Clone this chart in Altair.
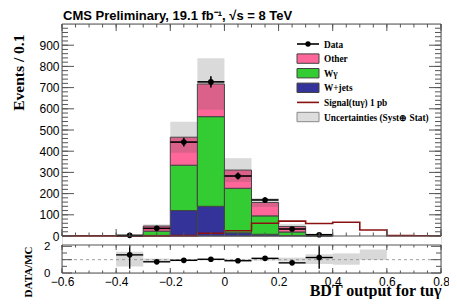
import altair as alt
import pandas as pd
import numpy as np

# ---------------- data ----------------
bin_lo = [-0.6, -0.5, -0.4, -0.3, -0.2, -0.1, 0.0, 0.1, 0.2, 0.3, 0.4, 0.5, 0.6, 0.7]
bin_hi = [-0.5, -0.4, -0.3, -0.2, -0.1, 0.0, 0.1, 0.2, 0.3, 0.4, 0.5, 0.6, 0.7, 0.8]

wjets  = [0, 0, 0.5, 3, 120, 140, 15, 8, 2, 0.5, 0, 0, 0, 0]
wgamma = [0, 0, 1.0, 20, 214, 423, 210, 87, 17, 2.5, 0, 0, 0, 0]
other  = [0, 0, 0.7, 24, 132, 154, 86, 63, 26, 2.2, 0, 0, 0, 0]
mc_unc = [0, 0, 1.2, 8, 73, 121, 56, 21, 11, 2.2, 0, 0, 0, 0]

data_val = [0, 0, 3, 36, 443, 727, 283, 170, 33, 6, 0, 0, 0, 0]
data_err = [0, 0, 1.7, 6, 21, 27, 17, 13, 6, 2.5, 0, 0, 0, 0]

signal = [0.5, 0.5, 0.5, 0.8, 2, 13, 25, 60, 70, 59, 65, 28, 2, 1]

ratio_val = [None, None, 1.36, 0.84, 0.95, 1.03, 0.92, 1.10, 0.76, 1.16, None, None, None, None]
ratio_err = [None, None, 1.04, 0.10, 0.05, 0.04, 0.06, 0.08, 0.15, 0.84, None, None, None, None]
band_lo = [None, None, 0.48, 0.88, 0.95, 0.95, 0.94, 0.93, 0.85, 0.68, 0.62, 0.98, None, None]
band_hi = [None, None, 1.59, 1.08, 1.05, 1.05, 1.06, 1.07, 1.15, 1.40, 1.47, 1.76, None, None]

x_labels = [-0.6, -0.4, -0.2, 0.0, 0.2, 0.4, 0.6, 0.8]
y_labels = [0, 100, 200, 300, 400, 500, 600, 700, 800, 900]
r_labels = [0, 1, 2]

legend_labels = ["Data", "Other", "W\u03b3", "W+jets", "Signal(tu\u03b3) 1 pb", "Uncertainties (Syst\u2295 Stat)"]

# ---------------- colours / geometry ----------------
C_OTHER = "#ff6699"
C_WG = "#33cc33"
C_WJ = "#333399"
C_SIG = "#8b1010"
FRAME = "#555555"
W, H = 379, 249
MAIN_BOTTOM = 212
R_TOP, R_BOTTOM = 221, 249
PAD_L, PAD_T = 54, 16

SANS = "Liberation Sans"
SERIF = "Liberation Serif"

xscale = alt.Scale(domain=[-0.6, 0.8], nice=False, zero=False)
xaxis = alt.Axis(values=x_labels, labelExpr="datum.value == 0 ? '0' : format(datum.value, '.1f')",
                 ticks=False, domain=False, grid=False, labelFont=SANS, labelFontSize=12,
                 labelColor="black", labelPadding=3, labelFlush=False,
                 title="BDT output for tu\u03b3", titleFont=SERIF, titleFontWeight="bold",
                 titleFontSize=16, titleColor="black", titleAnchor="end", titleAlign="right",
                 titleBaseline="alphabetic", titleX=W, titleY=22.5)

yscale = alt.Scale(domain=[0, 1000], range=[MAIN_BOTTOM, 0], nice=False, zero=False)
yaxis = alt.Axis(values=y_labels, ticks=False, domain=False, grid=False, labelFont=SANS,
                 labelFontSize=12, labelColor="black", labelPadding=3,
                 title="Events / 0.1", titleFont=SERIF, titleFontWeight="bold", titleFontSize=15.5,
                 titleColor="black", titleAngle=270, titleAlign="right", titleBaseline="alphabetic",
                 titleX=-39, titleY=10)

rscale = alt.Scale(domain=[0, 2.1], range=[R_BOTTOM, R_TOP], nice=False, zero=False, clamp=True)
raxis = alt.Axis(values=r_labels, format="d", ticks=False, domain=False, grid=False, labelFont=SANS,
                 labelFontSize=11.5, labelColor="black", labelPadding=12, orient="left",
                 title="DATA/MC", titleFont=SERIF, titleFontWeight="bold", titleFontSize=11,
                 titleColor="black", titleAngle=270, titleAlign="right", titleBaseline="alphabetic",
                 titleX=-31, titleY=R_TOP + 1)


def X(f):
    return alt.X(f"{f}:Q", scale=xscale, axis=xaxis)


def Y(f):
    return alt.Y(f"{f}:Q", scale=yscale, axis=yaxis)


def R(f):
    return alt.Y(f"{f}:Q", scale=rscale, axis=raxis)


# ---------------- tables ----------------
wj = np.array(wjets, float)
wg = np.array(wgamma, float)
ot = np.array(other, float)
tot = wj + wg + ot

stack = pd.DataFrame({
    "lo": bin_lo * 3, "hi": bin_hi * 3,
    "y0": list(np.zeros(14)) + list(wj) + list(wj + wg),
    "y1": list(wj) + list(wj + wg) + list(tot),
    "comp": ["W+jets"] * 14 + ["Wg"] * 14 + ["Other"] * 14,
})
stack = stack[stack.y1 > stack.y0]

unc = pd.DataFrame({"lo": bin_lo, "hi": bin_hi, "u0": tot - np.array(mc_unc), "u1": tot + np.array(mc_unc)})
unc = unc[unc.u1 > unc.u0]

dat = pd.DataFrame({"lo": bin_lo, "hi": bin_hi, "v": data_val, "e": data_err})
dat["c"] = (dat.lo + dat.hi) / 2
dat["v0"] = dat.v - dat.e
dat["v1"] = dat.v + dat.e
dat = dat[dat.v > 0]

sig = pd.DataFrame({"x": bin_lo + [bin_hi[-1]], "s": signal + [signal[-1]]})

rat = pd.DataFrame({"lo": bin_lo, "hi": bin_hi, "r": ratio_val, "re": ratio_err})
rat = rat.dropna()
rat["c"] = (rat.lo + rat.hi) / 2
rat["r0"] = rat.r - rat.re
rat["r1"] = rat.r + rat.re

band = pd.DataFrame({"lo": bin_lo, "hi": bin_hi, "b0": band_lo, "b1": band_hi}).dropna()

one = pd.DataFrame({"k": [0]})

# tick positions
xt_minor = pd.DataFrame({"t": [round(-0.6 + 0.05 * i, 2) for i in range(29)]})
xt_major = pd.DataFrame({"t": x_labels})
yt_minor = pd.DataFrame({"t": list(range(0, 1000, 20))})
yt_major = pd.DataFrame({"t": y_labels})
rt_minor = pd.DataFrame({"t": [0.5, 1.5]})
rt_major = pd.DataFrame({"t": r_labels})

# ---------------- main panel ----------------
stack_layer = alt.Chart(stack).mark_rect(stroke="#444444", strokeWidth=1).encode(
    x=X("lo"), x2="hi", y=Y("y0"), y2="y1",
    color=alt.Color("comp:N", scale=alt.Scale(domain=["W+jets", "Wg", "Other"],
                                               range=[C_WJ, C_WG, C_OTHER]), legend=None),
)
unc_layer = alt.Chart(unc).mark_rect(fill="#555555", fillOpacity=0.22).encode(
    x=X("lo"), x2="hi", y=Y("u0"), y2="u1")
sig_layer = alt.Chart(sig).mark_line(interpolate="step-after", color=C_SIG, strokeWidth=1.6).encode(
    x=X("x"), y=Y("s"))
dat_h = alt.Chart(dat).mark_rule(color="black", strokeWidth=1.6).encode(x=X("lo"), x2="hi", y=Y("v"))
dat_v = alt.Chart(dat).mark_rule(color="black", strokeWidth=1.6).encode(x=X("c"), y=Y("v0"), y2="v1")
dat_p = alt.Chart(dat).mark_circle(color="black", size=32, opacity=1).encode(x=X("c"), y=Y("v"))

main_ticks = []
for df, L in [(yt_minor, 6), (yt_major, 12)]:
    main_ticks.append(alt.Chart(df).mark_rule(color=FRAME, strokeWidth=1).encode(
        y=Y("t"), x=alt.value(0), x2=alt.value(L)))
    main_ticks.append(alt.Chart(df).mark_rule(color=FRAME, strokeWidth=1).encode(
        y=Y("t"), x=alt.value(W - L), x2=alt.value(W)))
for df, L in [(xt_minor, 3.5), (xt_major, 7)]:
    main_ticks.append(alt.Chart(df).mark_rule(color=FRAME, strokeWidth=1).encode(
        x=X("t"), y=alt.value(0), y2=alt.value(L)))
    main_ticks.append(alt.Chart(df).mark_rule(color=FRAME, strokeWidth=1).encode(
        x=X("t"), y=alt.value(MAIN_BOTTOM - L), y2=alt.value(MAIN_BOTTOM)))

main_frame = alt.Chart(one).mark_rect(fillOpacity=0, stroke=FRAME, strokeWidth=1).encode(
    x=alt.value(0), x2=alt.value(W), y=alt.value(0), y2=alt.value(MAIN_BOTTOM))

# legend (manual, ROOT style); positions relative to the plot's top-left corner
lx0, lx1, ltx = 235, 257, 262
rows = [20, 34.6, 49.2, 63.8, 78.4, 93]
leg = []
leg.append(alt.Chart(one).mark_rule(color="black", strokeWidth=1.6).encode(
    x=alt.value(lx0), x2=alt.value(lx1), y=alt.value(rows[0])))
leg.append(alt.Chart(one).mark_circle(color="black", size=28, opacity=1).encode(
    x=alt.value((lx0 + lx1) / 2), y=alt.value(rows[0])))
for i, col in [(1, C_OTHER), (2, C_WG), (3, C_WJ)]:
    leg.append(alt.Chart(one).mark_rect(fill=col, stroke="#444444", strokeWidth=1).encode(
        x=alt.value(lx0), x2=alt.value(lx1), y=alt.value(rows[i] - 4.7), y2=alt.value(rows[i] + 4.7)))
leg.append(alt.Chart(one).mark_rule(color=C_SIG, strokeWidth=1.6).encode(
    x=alt.value(lx0), x2=alt.value(lx1), y=alt.value(rows[4])))
leg.append(alt.Chart(one).mark_rect(fill="#dddddd", stroke="#888888", strokeWidth=1).encode(
    x=alt.value(lx0), x2=alt.value(lx1), y=alt.value(rows[5] - 4.7), y2=alt.value(rows[5] + 4.7)))
for i, lab in enumerate(legend_labels):
    leg.append(alt.Chart(one).mark_text(text=lab, align="left", baseline="middle", font=SERIF,
                                        fontWeight="bold", fontSize=9.3, color="black").encode(
        x=alt.value(ltx), y=alt.value(rows[i] + 0.5)))

title = alt.Chart(one).mark_text(text="CMS Preliminary, 19.1 fb\u207b\u00b9,  \u221as = 8 TeV",
                                 align="left", baseline="alphabetic", font=SANS, fontWeight="bold",
                                 fontSize=13, color="black").encode(x=alt.value(1), y=alt.value(-4.5))

main = alt.layer(stack_layer, unc_layer, sig_layer, dat_h, dat_v, dat_p, *main_ticks, main_frame)

# ---------------- ratio panel ----------------
band_layer = alt.Chart(band).mark_rect(fill="#999999", fillOpacity=0.38).encode(
    x=X("lo"), x2="hi", y=R("b0"), y2="b1")
one_line = alt.Chart(pd.DataFrame({"r": [1]})).mark_rule(color="#888888", strokeDash=[3, 3], strokeWidth=0.8).encode(
    y=R("r"), x=alt.value(0), x2=alt.value(W))
rat_h = alt.Chart(rat).mark_rule(color="black", strokeWidth=1.4).encode(x=X("lo"), x2="hi", y=R("r"))
rat_v = alt.Chart(rat).mark_rule(color="black", strokeWidth=1.4).encode(x=X("c"), y=R("r0"), y2="r1")
rat_p = alt.Chart(rat).mark_circle(color="black", size=32, opacity=1).encode(x=X("c"), y=R("r"))

r_ticks = []
for df, L in [(rt_minor, 5), (rt_major, 10)]:
    r_ticks.append(alt.Chart(df).mark_rule(color=FRAME, strokeWidth=1).encode(
        y=R("t"), x=alt.value(0), x2=alt.value(L)))
    r_ticks.append(alt.Chart(df).mark_rule(color=FRAME, strokeWidth=1).encode(
        y=R("t"), x=alt.value(W - L), x2=alt.value(W)))
for df, L in [(xt_minor, 2.5), (xt_major, 5)]:
    r_ticks.append(alt.Chart(df).mark_rule(color=FRAME, strokeWidth=1).encode(
        x=X("t"), y=alt.value(R_TOP), y2=alt.value(R_TOP + L)))
    r_ticks.append(alt.Chart(df).mark_rule(color=FRAME, strokeWidth=1).encode(
        x=X("t"), y=alt.value(R_BOTTOM - L), y2=alt.value(R_BOTTOM)))

r_frame = alt.Chart(one).mark_rect(fillOpacity=0, stroke=FRAME, strokeWidth=1).encode(
    x=alt.value(0), x2=alt.value(W), y=alt.value(R_TOP), y2=alt.value(R_BOTTOM))

ratio = alt.layer(band_layer, one_line, rat_h, rat_v, rat_p, *r_ticks, r_frame)

# total drawing: 54 + 379 + 8 = 441 wide, 16 + 249 + 26 = 291 high (fits the 457x307 page with its 8px margins)
chart = alt.layer(main, ratio, *leg, title).resolve_scale(y="independent").properties(
    width=W, height=H,
    autosize=alt.AutoSizeParams(type="none"),
    padding={"left": PAD_L, "top": PAD_T, "right": 8, "bottom": 26},
).configure_view(stroke=None).configure(background="white")

chart.save("out.html", embed_options={"renderer": "svg", "actions": False})
